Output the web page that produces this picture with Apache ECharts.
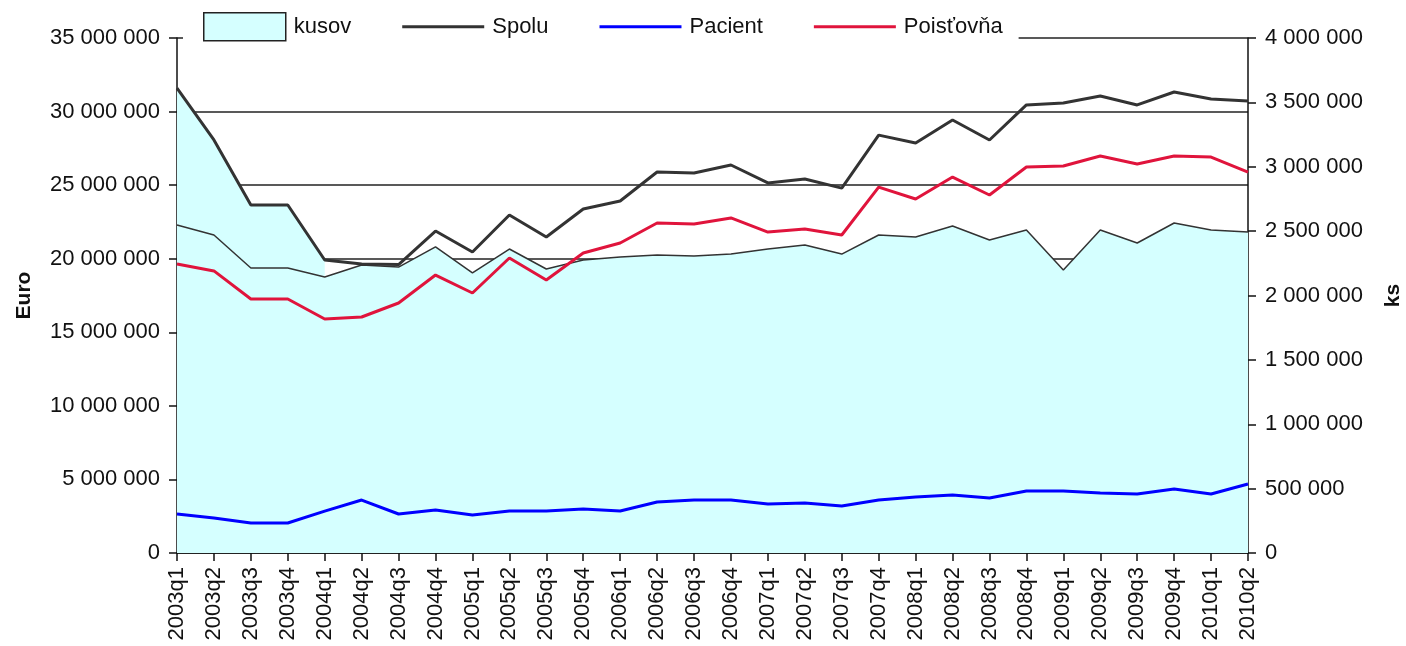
<!DOCTYPE html>
<html>
<head>
<meta charset="utf-8">
<script src="https://cdn.jsdelivr.net/npm/echarts@6/dist/echarts.min.js"></script>
<style>
  html, body { margin: 0; padding: 0; background: #fff; }
  #container { width: 1406px; height: 646px; }
</style>
</head>
<body>
<div id="container"></div>
<script>
const dom = document.getElementById("container");
const myChart = echarts.init(dom);

const quarters = [
  '2003q1', '2003q2', '2003q3', '2003q4', '2004q1', '2004q2', '2004q3', '2004q4',
  '2005q1', '2005q2', '2005q3', '2005q4', '2006q1', '2006q2', '2006q3', '2006q4',
  '2007q1', '2007q2', '2007q3', '2007q4', '2008q1', '2008q2', '2008q3', '2008q4',
  '2009q1', '2009q2', '2009q3', '2009q4', '2010q1', '2010q2'
]

// ks (right axis)
const kusov = [
  2548000, 2470000, 2214000, 2214000, 2144000, 2237000, 2221000, 2377000,
  2175000, 2361000, 2206000, 2276000, 2299000, 2315000, 2307000, 2322000,
  2361000, 2392000, 2322000, 2470000, 2454000, 2540000, 2431000, 2509000,
  2198000, 2509000, 2408000, 2563000, 2509000, 2493000
]

// Euro (left axis)
const spolu = [
  31600000, 28070000, 23650000, 23650000, 19910000, 19640000, 19600000, 21880000,
  20460000, 22970000, 21480000, 23380000, 23920000, 25890000, 25830000, 26370000,
  25150000, 25420000, 24800000, 28400000, 27860000, 29430000, 28070000, 30450000,
  30580000, 31060000, 30450000, 31330000, 30850000, 30720000
]

const pacient = [
  2650000, 2380000, 2040000, 2040000, 2850000, 3600000, 2650000, 2920000,
  2580000, 2850000, 2850000, 2990000, 2850000, 3470000, 3600000, 3600000,
  3330000, 3400000, 3190000, 3600000, 3810000, 3940000, 3740000, 4210000,
  4210000, 4080000, 4010000, 4350000, 4010000, 4690000
]

const poistovna = [
  19640000, 19170000, 17260000, 17260000, 15900000, 16040000, 16990000, 18890000,
  17670000, 20050000, 18550000, 20390000, 21070000, 22430000, 22360000, 22770000,
  21810000, 22020000, 21610000, 24870000, 24060000, 25550000, 24330000, 26230000,
  26300000, 26980000, 26440000, 26980000, 26910000, 25890000
]

const AREA = '#d5ffff'
const FONT = 'Liberation Sans'

const fmt = v => String(v).replace(/\B(?=(\d{3})+(?!\d))/g, ' ')

// in the source the fill reaches up to Spolu for the first quarters
const earlyFill = spolu.map((v, i) => i <= 4 ? v : null)

const lineIcon = 'path://M0,0L82,0L82,3L0,3Z'

const option = {
  animation: false,
  textStyle: { fontFamily: FONT },
  grid: { left: 177, right: 158, top: 38, bottom: 93, containLabel: false, outerBoundsMode: 'none' },
  legend: {
    left: 183,
    top: 7,
    padding: [5, 16, 5, 20],
    backgroundColor: '#fff',
    itemWidth: 82,
    itemHeight: 28,
    itemGap: 51,
    textStyle: { fontSize: 22, color: '#111', fontFamily: FONT, padding: [0, 0, 0, 3] },
    data: [
      { name: 'kusov', icon: 'rect', itemStyle: { color: AREA, borderColor: '#222', borderWidth: 1.5 } },
      { name: 'Spolu', icon: lineIcon },
      { name: 'Pacient', icon: lineIcon },
      { name: 'Poisťovňa', icon: lineIcon }
    ]
  },
  xAxis: {
    type: 'category',
    data: quarters,
    boundaryGap: false,
    axisLine: { lineStyle: { color: '#111', width: 1.5 } },
    axisTick: { alignWithLabel: true, length: 8, lineStyle: { color: '#111', width: 1.5 } },
    axisLabel: { rotate: 90, fontSize: 22, color: '#111', margin: 14, interval: 0, fontFamily: FONT },
    splitLine: { show: false }
  },
  yAxis: [
    {
      type: 'value',
      min: 0,
      max: 35000000,
      interval: 5000000,
      name: 'Euro',
      nameLocation: 'middle',
      nameRotate: 90,
      nameGap: 142,
      nameTextStyle: { fontSize: 21, fontWeight: 'bold', color: '#111', fontFamily: FONT },
      axisLine: { show: true, lineStyle: { color: '#111', width: 1.5 } },
      axisTick: { show: true, length: 8, lineStyle: { color: '#111', width: 1.5 } },
      axisLabel: { formatter: fmt, fontSize: 22, color: '#111', margin: 17, fontFamily: FONT },
      splitLine: { show: true, lineStyle: { color: '#222', width: 1.5 } }
    },
    {
      type: 'value',
      min: 0,
      max: 4000000,
      interval: 500000,
      name: 'ks',
      nameLocation: 'middle',
      nameRotate: 90,
      nameGap: 135,
      nameTextStyle: { fontSize: 21, fontWeight: 'bold', color: '#111', fontFamily: FONT },
      axisLine: { show: true, lineStyle: { color: '#111', width: 1.5 } },
      axisTick: { show: true, length: 8, lineStyle: { color: '#111', width: 1.5 } },
      axisLabel: { formatter: fmt, fontSize: 22, color: '#111', margin: 17, fontFamily: FONT },
      splitLine: { show: false }
    }
  ],
  series: [
    {
      name: 'fill',
      type: 'line',
      yAxisIndex: 0,
      data: earlyFill,
      symbol: 'none',
      lineStyle: { width: 0 },
      areaStyle: { color: AREA, opacity: 1 },
      itemStyle: { color: AREA },
      silent: true,
      z: 1
    },
    {
      name: 'kusov',
      type: 'line',
      yAxisIndex: 1,
      data: kusov,
      symbol: 'none',
      lineStyle: { color: '#333', width: 1.5 },
      itemStyle: { color: AREA },
      areaStyle: { color: AREA, opacity: 1 },
      z: 2
    },
    {
      name: 'Spolu',
      type: 'line',
      yAxisIndex: 0,
      data: spolu,
      symbol: 'none',
      lineStyle: { color: '#333', width: 3 },
      itemStyle: { color: '#333' },
      z: 3
    },
    {
      name: 'Pacient',
      type: 'line',
      yAxisIndex: 0,
      data: pacient,
      symbol: 'none',
      lineStyle: { color: '#0000ff', width: 3 },
      itemStyle: { color: '#0000ff' },
      z: 3
    },
    {
      name: 'Poisťovňa',
      type: 'line',
      yAxisIndex: 0,
      data: poistovna,
      symbol: 'none',
      lineStyle: { color: '#e0143c', width: 3 },
      itemStyle: { color: '#e0143c' },
      z: 3
    }
  ]
};

myChart.setOption(option, true);
</script>
</body>
</html>
